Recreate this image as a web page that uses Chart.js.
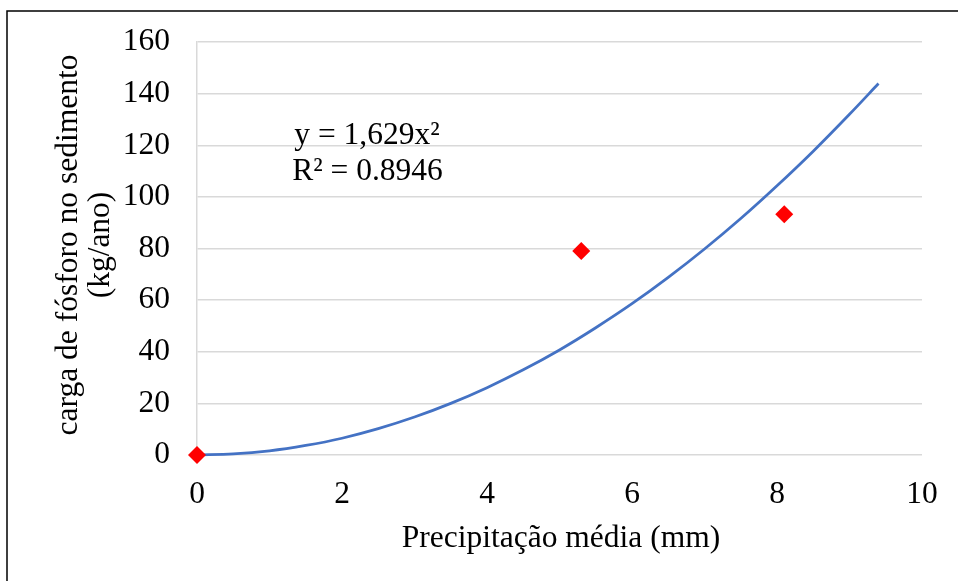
<!DOCTYPE html>
<html>
<head>
<meta charset="utf-8">
<script src="https://cdn.jsdelivr.net/npm/chart.js@4"></script>
<style>
html,body{margin:0;padding:0;background:#fff;}
canvas{display:block;}
</style>
</head>
<body>
<canvas id="c" width="958" height="581"></canvas>
<script>
// Observed data (precipitation mm, phosphorus load kg/year)
const obsX = [0, 5.3, 8.1];
const obsY = [0, 79, 93.3];
// Trendline values
const trendX = [0, 0.5, 1, 1.5, 2, 2.5, 3, 3.5, 4, 4.5, 5, 5.5, 6, 6.5, 7, 7.5, 8, 8.5, 9, 9.4];
const trendY = [0, 0.4, 1.6, 3.7, 6.5, 10.2, 14.7, 20.0, 26.1, 33.0, 40.7, 49.3, 58.6, 68.8, 79.8, 91.6, 104.3, 117.7, 132.0, 143.9];
const xTicks = [0, 2, 4, 6, 8, 10];
const yTicks = [0, 20, 40, 60, 80, 100, 120, 140, 160];
const xTitle = 'Precipitação média (mm)';
const yTitle = ['carga de fósforo no sedimento', '(kg/ano)'];
const eqLines = ['y = 1,629x²', 'R² = 0.8946'];

const FONT = '"Liberation Serif", "Times New Roman", serif';
const FS = 31.5;

const extras = {
  id: 'extras',
  beforeDraw(chart) {
    const ctx = chart.ctx;
    ctx.save();
    ctx.fillStyle = '#fff';
    ctx.fillRect(0, 0, chart.width, chart.height);
    ctx.strokeStyle = '#000';
    ctx.lineWidth = 1.5;
    ctx.strokeRect(7, 11, 2000, 2000);
    ctx.restore();
  },
  afterDraw(chart) {
    const ctx = chart.ctx;
    ctx.save();
    ctx.fillStyle = '#000';
    ctx.font = FS + 'px ' + FONT;
    ctx.textAlign = 'center';
    ctx.textBaseline = 'alphabetic';
    ctx.fillText(xTitle, 561, 547);
    ctx.save();
    ctx.translate(0, 245);
    ctx.rotate(-Math.PI / 2);
    ctx.fillText(yTitle[0], 0, 77);
    ctx.fillText(yTitle[1], 0, 109);
    ctx.restore();
    ctx.fillText(eqLines[0], 367, 144);
    ctx.fillText(eqLines[1], 367.5, 180);
    ctx.restore();
  }
};

new Chart(document.getElementById('c'), {
  type: 'scatter',
  data: {
    datasets: [
      {
        type: 'line',
        data: trendX.map((x, i) => ({x: x, y: trendY[i]})),
        borderColor: '#4472C4',
        borderWidth: 2.75,
        pointRadius: 0,
        cubicInterpolationMode: 'monotone',
        fill: false,
        clip: false,
        order: 2
      },
      {
        data: obsX.map((x, i) => ({x: x, y: obsY[i]})),
        backgroundColor: '#FF0000',
        borderColor: '#FF0000',
        borderWidth: 0,
        pointStyle: 'rectRot',
        pointRadius: 9,
        pointHoverRadius: 9,
        clip: false,
        order: 1
      }
    ]
  },
  options: {
    responsive: false,
    animation: false,
    events: [],
    layout: { padding: { left: 0, right: 36, top: 42, bottom: 0 } },
    plugins: { legend: { display: false }, tooltip: { enabled: false } },
    scales: {
      x: {
        type: 'linear',
        min: 0, max: 10,
        afterFit(s) { s.height = 581 - 455; },
        afterBuildTicks(s) { s.ticks = xTicks.map(v => ({value: v})); },
        grid: { display: false, drawTicks: true, tickLength: 21, tickColor: 'rgba(0,0,0,0)' },
        border: { display: false },
        ticks: { color: '#000', font: { family: FONT, size: FS }, padding: 0, maxRotation: 0 }
      },
      y: {
        min: 0, max: 160,
        afterFit(s) { s.width = 197; },
        afterBuildTicks(s) { s.ticks = yTicks.map(v => ({value: v})); },
        grid: { color: '#d9d9d9', lineWidth: 1.5, drawTicks: true, tickLength: 27, tickColor: 'rgba(0,0,0,0)' },
        border: { display: true, color: '#d9d9d9', width: 1.5 },
        ticks: { color: '#000', font: { family: FONT, size: FS }, padding: 0 }
      }
    }
  },
  plugins: [extras]
});
</script>
</body>
</html>
